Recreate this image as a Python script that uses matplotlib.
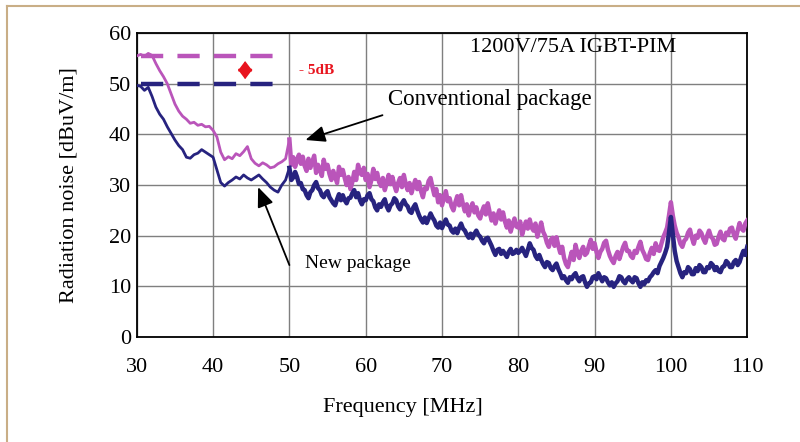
import numpy as np
import matplotlib
matplotlib.use("Agg")
import matplotlib.pyplot as plt
from matplotlib.lines import Line2D

plt.rcParams['font.family'] = ['Liberation Serif', 'DejaVu Serif']

# frequency axis: 0.5 MHz steps up to 49.5 MHz, then 0.25 MHz steps
freq_low = np.arange(30.0, 49.99, 0.5)
freq_high = np.arange(50.0, 110.01, 0.25)
freq = np.concatenate([freq_low, freq_high])

# conventional package (magenta)
conv_low = [
    55.5, 55.8, 55.4, 56.0, 55.6, 54.0, 52.6, 51.4, 50.0, 48.0,
    46.0, 44.6, 43.6, 43.0, 42.2, 42.4, 41.8, 42.0, 41.5, 41.6,
    40.8, 39.5, 36.5, 35.0, 35.6, 35.2, 36.2, 35.8, 36.6, 37.6,
    35.2, 34.3, 33.8, 34.4, 34.0, 33.4, 33.6, 34.2, 34.6, 35.2,
]
conv_high = [
    39.0, 34.0, 35.5, 33.6, 35.0, 36.0, 34.2, 35.6, 33.8, 32.8,
    35.2, 33.4, 34.6, 35.8, 32.4, 34.0, 33.0, 31.8, 35.0, 33.2,
    34.0, 32.2, 31.0, 32.8, 31.6, 30.4, 33.6, 32.0, 33.0, 31.4,
    30.0, 31.6, 29.2, 30.6, 32.6, 31.0, 34.0, 32.4, 32.0, 33.4,
    31.0, 32.2, 29.6, 31.0, 33.2, 31.2, 32.4, 30.6, 29.8, 31.4,
    29.0, 30.4, 32.0, 30.2, 31.6, 30.0, 28.8, 30.4, 31.4, 29.6,
    32.0, 30.2, 29.0, 30.4, 28.4, 29.8, 31.0, 29.2, 30.6, 28.8,
    27.6, 29.4, 29.2, 30.8, 31.4, 29.6, 28.0, 29.2, 26.6, 28.0,
    26.0, 27.4, 28.8, 26.8, 27.4, 25.8, 25.0, 26.6, 27.8, 26.0,
    28.0, 26.2, 24.8, 26.2, 24.0, 25.4, 26.4, 24.6, 25.6, 24.0,
    23.4, 24.8, 25.8, 24.2, 26.4, 24.6, 23.0, 24.4, 22.4, 23.8,
    25.0, 23.2, 24.6, 22.8, 21.6, 23.0, 20.8, 22.2, 23.4, 21.8,
    21.6, 22.8, 20.2, 21.6, 22.8, 21.4, 23.2, 21.6, 21.0, 22.4,
    19.8, 21.2, 22.6, 20.8, 20.0, 18.6, 17.8, 19.2, 19.6, 18.0,
    19.7, 18.0, 16.6, 17.8, 15.6, 14.4, 13.8, 15.4, 16.8, 15.2,
    18.2, 16.6, 15.6, 17.0, 17.8, 16.2, 16.6, 18.0, 19.2, 17.4,
    18.5, 16.8, 15.6, 16.8, 17.4, 18.6, 19.0, 17.2, 16.0, 15.2,
    14.6, 16.0, 16.8, 15.4, 16.6, 17.8, 18.6, 17.0, 17.0, 16.0,
    15.6, 17.0, 16.6, 17.8, 18.8, 17.2, 16.4, 15.4, 15.2, 16.6,
    17.6, 16.4, 18.5, 17.2, 17.0, 18.4, 19.7, 20.6, 21.6, 24.0,
    26.6, 24.0, 22.0, 20.6, 19.7, 18.4, 17.8, 19.0, 19.4, 20.6,
    21.2, 19.6, 18.4, 20.0, 19.6, 21.0, 20.5, 19.4, 18.6, 20.0,
    21.0, 19.8, 19.4, 18.2, 18.4, 19.8, 20.8, 19.4, 19.1, 20.6,
    20.2, 21.4, 21.6, 20.2, 19.4, 21.0, 22.5, 21.4, 21.0, 22.4,
    23.0,
]

# new package (navy)
new_low = [
    49.7, 49.5, 48.7, 49.3, 47.5, 45.4, 44.0, 43.0, 41.5, 40.2,
    38.9, 37.8, 37.0, 35.5, 35.3, 36.0, 36.3, 37.0, 36.5, 36.0,
    35.5, 33.0, 30.5, 29.8, 30.5, 31.0, 31.6, 31.2, 32.0, 31.4,
    31.0, 31.5, 32.0, 31.2, 30.5, 29.6, 29.0, 28.6, 30.0, 31.0,
]
new_high = [
    33.4, 31.0, 31.5, 32.6, 31.6, 30.2, 30.4, 29.2, 29.0, 28.0,
    27.4, 28.6, 29.0, 30.0, 30.6, 29.4, 29.0, 28.0, 27.6, 28.4,
    28.8, 27.6, 27.0, 26.4, 26.0, 27.2, 28.2, 27.0, 28.0, 27.0,
    26.4, 27.4, 27.5, 28.4, 29.0, 27.6, 28.4, 27.0, 26.2, 27.2,
    27.0, 28.0, 28.4, 27.2, 26.8, 25.6, 25.0, 26.2, 25.7, 26.6,
    27.2, 25.8, 25.0, 26.0, 26.4, 27.4, 27.0, 25.8, 25.2, 26.4,
    27.0, 26.2, 25.8, 24.8, 24.5, 25.6, 26.2, 25.0, 24.0, 23.2,
    22.6, 23.6, 22.5, 23.4, 24.4, 23.6, 23.0, 22.0, 21.6, 22.6,
    21.5, 22.4, 23.2, 22.2, 22.0, 21.0, 20.6, 21.4, 20.5, 21.6,
    22.4, 21.4, 21.0, 20.2, 19.6, 20.4, 19.5, 20.4, 21.0, 20.2,
    19.8, 19.0, 18.5, 19.4, 19.6, 18.8, 18.0, 17.0, 16.2, 17.2,
    17.4, 16.4, 17.0, 16.4, 15.8, 16.8, 17.4, 16.4, 16.6, 17.2,
    16.6, 17.0, 17.6, 16.8, 16.0, 17.2, 18.5, 17.6, 17.2, 16.0,
    15.4, 16.2, 15.2, 14.4, 13.8, 14.8, 14.6, 13.6, 13.2, 14.0,
    14.5, 13.4, 12.6, 11.6, 12.0, 11.2, 10.7, 11.8, 11.4, 12.2,
    12.6, 11.6, 11.0, 11.8, 12.0, 10.8, 9.9, 10.6, 10.8, 11.8,
    12.0, 11.4, 12.6, 11.8, 11.0, 11.8, 11.6, 10.8, 10.2, 10.8,
    9.9, 10.6, 11.0, 12.0, 11.8, 11.0, 10.6, 11.4, 11.8, 11.2,
    10.8, 11.8, 11.6, 10.6, 9.9, 10.8, 10.4, 11.2, 11.0, 11.8,
    12.2, 12.8, 13.2, 12.6, 14.0, 14.8, 15.6, 16.6, 17.8, 20.6,
    23.7, 20.4, 17.0, 15.0, 13.8, 12.6, 11.8, 12.8, 12.6, 13.8,
    13.4, 12.4, 12.4, 13.6, 13.0, 14.2, 13.8, 12.8, 12.8, 13.8,
    13.6, 14.6, 14.2, 13.2, 13.8, 13.0, 12.8, 13.8, 14.0, 15.0,
    14.6, 13.8, 13.8, 14.8, 15.2, 14.2, 14.8, 16.0, 17.0, 16.2,
    17.8,
]

conventional = conv_low + conv_high
new = new_low + new_high

peak_conv = 55.5
peak_new = 50.0
xticks = [30, 40, 50, 60, 70, 80, 90, 100, 110]
yticks = [0, 10, 20, 30, 40, 50, 60]

MAGENTA = '#BA55BA'
NAVY = '#27237F'
RED = '#E8141E'

fig = plt.figure(figsize=(8, 4.42), dpi=100)
ax = fig.add_axes([0.171, 0.2376, 0.763, 0.6874])

# the trace gets noisier (thicker) above ~50 MHz
n = len(freq_low) + 1
ax.plot(freq[:n], conventional[:n], color=MAGENTA, lw=2.0, zorder=3,
        solid_capstyle='round')
ax.plot(freq[n - 1:], conventional[n - 1:], color=MAGENTA, lw=3.2, zorder=3)
ax.plot(freq[:n], new[:n], color=NAVY, lw=2.0, zorder=4,
        solid_capstyle='round')
ax.plot(freq[n - 1:], new[n - 1:], color=NAVY, lw=3.2, zorder=4)

# peak level markers
ax.plot([30.5, 48.8], [peak_conv, peak_conv], color=MAGENTA, lw=3.2,
        dashes=(5, 3.2), zorder=3)
ax.plot([30.5, 48.8], [peak_new, peak_new], color=NAVY, lw=3.2,
        dashes=(5, 3.2), zorder=3)
ax.annotate('', xy=(44.2, 54.5), xytext=(44.2, 50.9),
            arrowprops=dict(arrowstyle='<|-|>,head_length=0.6,head_width=0.45',
                            color=RED, lw=1.2, shrinkA=0, shrinkB=0))
ax.text(51.3, 52.7, '- 5dB', color=RED, fontsize=11, fontweight='bold',
        va='center', ha='left')

ax.text(87.2, 57.2, '1200V/75A IGBT-PIM', fontsize=16, ha='center', va='center')

# callouts
ax.text(62.9, 46.8, 'Conventional package', fontsize=16.5, ha='left', va='center')
ax.annotate('', xy=(52.1, 38.9), xytext=(62.2, 43.8),
            arrowprops=dict(arrowstyle='-|>,head_length=1.2,head_width=0.5',
                            color='black', lw=1.3, shrinkA=0, shrinkB=0))
ax.text(52.1, 14.6, 'New package', fontsize=14, ha='left', va='center')
ax.annotate('', xy=(45.9, 29.6), xytext=(50.0, 14.2),
            arrowprops=dict(arrowstyle='-|>,head_length=1.2,head_width=0.5',
                            color='black', lw=1.3, shrinkA=0, shrinkB=0))

ax.set_xlim(30, 110)
ax.set_ylim(0, 60)
ax.set_xticks(xticks)
ax.set_yticks(yticks)
ax.tick_params(length=0, labelsize=16)
ax.tick_params(axis='x', pad=15)
ax.tick_params(axis='y', pad=4)
ax.grid(True, color='#7f7f7f', lw=1.0)
ax.set_axisbelow(True)
for s in ax.spines.values():
    s.set_linewidth(1.3)

ax.set_ylabel('Radiation noise [dBuV/m]', fontsize=16, labelpad=22)
fig.text(0.503, 0.077, 'Frequency [MHz]', fontsize=16, ha='center', va='center')

# frame around the figure (left and top edges visible)
fig.add_artist(Line2D([0.009, 0.009], [0.0, 0.986], transform=fig.transFigure,
                      color='#C9AE86', lw=1.5))
fig.add_artist(Line2D([0.009, 1.0], [0.986, 0.986], transform=fig.transFigure,
                      color='#C9AE86', lw=1.5))

fig.savefig('out.png', dpi=100)
